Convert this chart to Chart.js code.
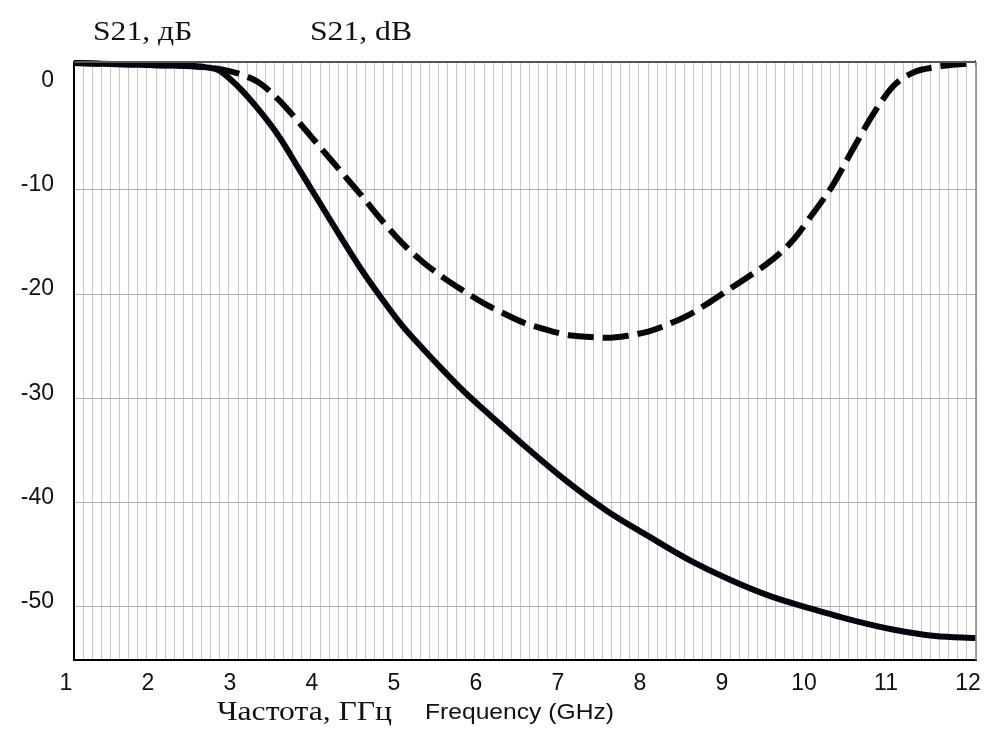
<!DOCTYPE html>
<html>
<head>
<meta charset="utf-8">
<script src="https://cdn.jsdelivr.net/npm/chart.js@4/dist/chart.umd.min.js"></script>
<style>
  html, body { margin: 0; padding: 0; background: #fff; }
  #wrap { width: 989px; height: 731px; position: relative; }
</style>
</head>
<body>
<div id="wrap"><canvas id="s21Chart"></canvas></div>
<script>
// data
const freqSolid = [1, 2, 2.5, 2.75, 3.0, 3.25, 3.5, 3.75, 4.0, 4.25, 4.5, 4.75, 5.0, 5.25, 5.5, 5.75, 6.0, 6.5, 7.0, 7.5, 8.0, 8.5, 9.0, 9.5, 10, 10.5, 11, 11.5, 12];
const s21Solid = [2.15, 1.95, 1.8, 1.5, -0.1, -2.3, -4.9, -8.1, -11.3, -14.5, -17.6, -20.4, -23.0, -25.2, -27.3, -29.3, -31.1, -34.6, -37.9, -40.8, -43.2, -45.5, -47.4, -49.0, -50.2, -51.3, -52.2, -52.8, -53.0];

const freqDash = [1, 2, 2.5, 2.75, 3.0, 3.25, 3.5, 3.75, 4.0, 4.25, 4.5, 4.75, 5.0, 5.25, 5.5, 5.75, 6.0, 6.25, 6.5, 6.75, 7.0, 7.25, 7.5, 7.75, 8.0, 8.25, 8.5, 8.75, 9.0, 9.25, 9.5, 9.75, 10.0, 10.25, 10.5, 10.75, 11.0, 11.25, 11.5, 11.75, 12];
const s21Dash = [2.15, 1.95, 1.85, 1.6, 1.15, 0.3, -1.4, -3.6, -5.9, -8.2, -10.5, -12.9, -15.1, -16.9, -18.4, -19.7, -20.9, -21.9, -22.8, -23.4, -23.9, -24.1, -24.2, -24.0, -23.6, -22.9, -22.0, -20.8, -19.5, -18.2, -16.8, -15.0, -12.4, -9.6, -6.1, -2.7, 0.0, 1.3, 1.75, 2.0, 2.15];

const yTicks = [0, -10, -20, -30, -40, -50];
const xTicks = [1, 2, 3, 4, 5, 6, 7, 8, 9, 10, 11, 12];

const toPoints = (xs, ys) => xs.map((x, i) => ({ x: x, y: ys[i] }));

// draws text a bit wider, the source image is stretched
function wideText(ctx, text, x, y, sx) {
    ctx.save();
    ctx.translate(x, y);
    ctx.scale(sx, 1);
    ctx.fillText(text, 0, 0);
    ctx.restore();
}

// titles and frame drawn on top
const labelsPlugin = {
    id: 'labels',
    afterDraw(chart) {
        const ctx = chart.ctx;
        const a = chart.chartArea;
        ctx.save();
        // frame: top and right edges
        ctx.strokeStyle = '#555';
        ctx.lineWidth = 2;
        ctx.beginPath();
        ctx.moveTo(a.left, a.top);
        ctx.lineTo(a.right, a.top);
        ctx.stroke();
        ctx.strokeStyle = '#888';
        ctx.lineWidth = 1.5;
        ctx.beginPath();
        ctx.moveTo(a.right, a.top);
        ctx.lineTo(a.right, a.bottom);
        ctx.stroke();

        ctx.fillStyle = '#111';
        ctx.textBaseline = 'alphabetic';
        ctx.textAlign = 'left';
        ctx.font = '28px "Liberation Serif", "Times New Roman", serif';
        wideText(ctx, 'S21, дБ', 93, 40, 1.13);
        wideText(ctx, 'S21, dB', 310, 40, 1.13);
        wideText(ctx, 'Частота, ГГц', 217, 720, 1.13);
        ctx.font = '22px "Liberation Sans", Arial, sans-serif';
        wideText(ctx, 'Frequency (GHz)', 425, 719, 1.12);
        ctx.restore();
    }
};

const ctx = document.getElementById('s21Chart').getContext('2d');
new Chart(ctx, {
    type: 'scatter',
    data: {
        datasets: [
            {
                label: 'S21 (1)',
                data: toPoints(freqSolid, s21Solid),
                showLine: true,
                borderColor: '#05050f',
                borderWidth: 6,
                pointRadius: 0,
                cubicInterpolationMode: 'monotone',
                clip: 6,
            },
            {
                label: 'S21 (2)',
                data: toPoints(freqDash, s21Dash),
                showLine: true,
                borderColor: '#0a0505',
                borderWidth: 6,
                borderDash: [26, 9],
                pointRadius: 0,
                cubicInterpolationMode: 'monotone',
                clip: 6,
            },
        ],
    },
    options: {
        responsive: true,
        maintainAspectRatio: false,
        animation: false,
        layout: { padding: { top: 62, right: 13, left: 0, bottom: 0 } },
        plugins: {
            legend: { display: false },
            tooltip: { enabled: false },
        },
        scales: {
            x: {
                type: 'linear',
                min: 1,
                max: 12,
                afterFit: (s) => { s.height = 71; s.paddingLeft = 0; s.paddingRight = 0; },
                ticks: {
                    stepSize: 1 / 9,
                    autoSkip: false,
                    includeBounds: false,
                    maxRotation: 0,
                    padding: 10,
                    labelOffset: -8,
                    color: '#111',
                    font: { family: '"Liberation Sans", Arial, sans-serif', size: 23 },
                    callback: (v) => {
                        const r = Math.round(v);
                        return Math.abs(v - r) < 1e-6 && xTicks.includes(r) ? String(r) : '';
                    },
                },
                grid: { color: '#c6c6c6', lineWidth: 1, drawTicks: false },
                border: { color: '#000', width: 2 },
            },
            y: {
                min: -55.1,
                max: 2.25,
                afterFit: (s) => { s.width = 74; s.paddingTop = 0; s.paddingBottom = 0; },
                ticks: {
                    stepSize: 10,
                    includeBounds: false,
                    padding: 20,
                    labelOffset: -5,
                    color: '#111',
                    font: { family: '"Liberation Sans", Arial, sans-serif', size: 23 },
                    callback: (v) => yTicks.includes(v) ? String(v) : '',
                },
                grid: {
                    color: (c) => (c.tick && c.tick.value === 0) ? 'rgba(0,0,0,0)' : '#b0b0b0',
                    lineWidth: 1,
                    drawTicks: false,
                },
                border: { color: '#000', width: 2 },
            },
        },
    },
    plugins: [labelsPlugin],
});
</script>
</body>
</html>
